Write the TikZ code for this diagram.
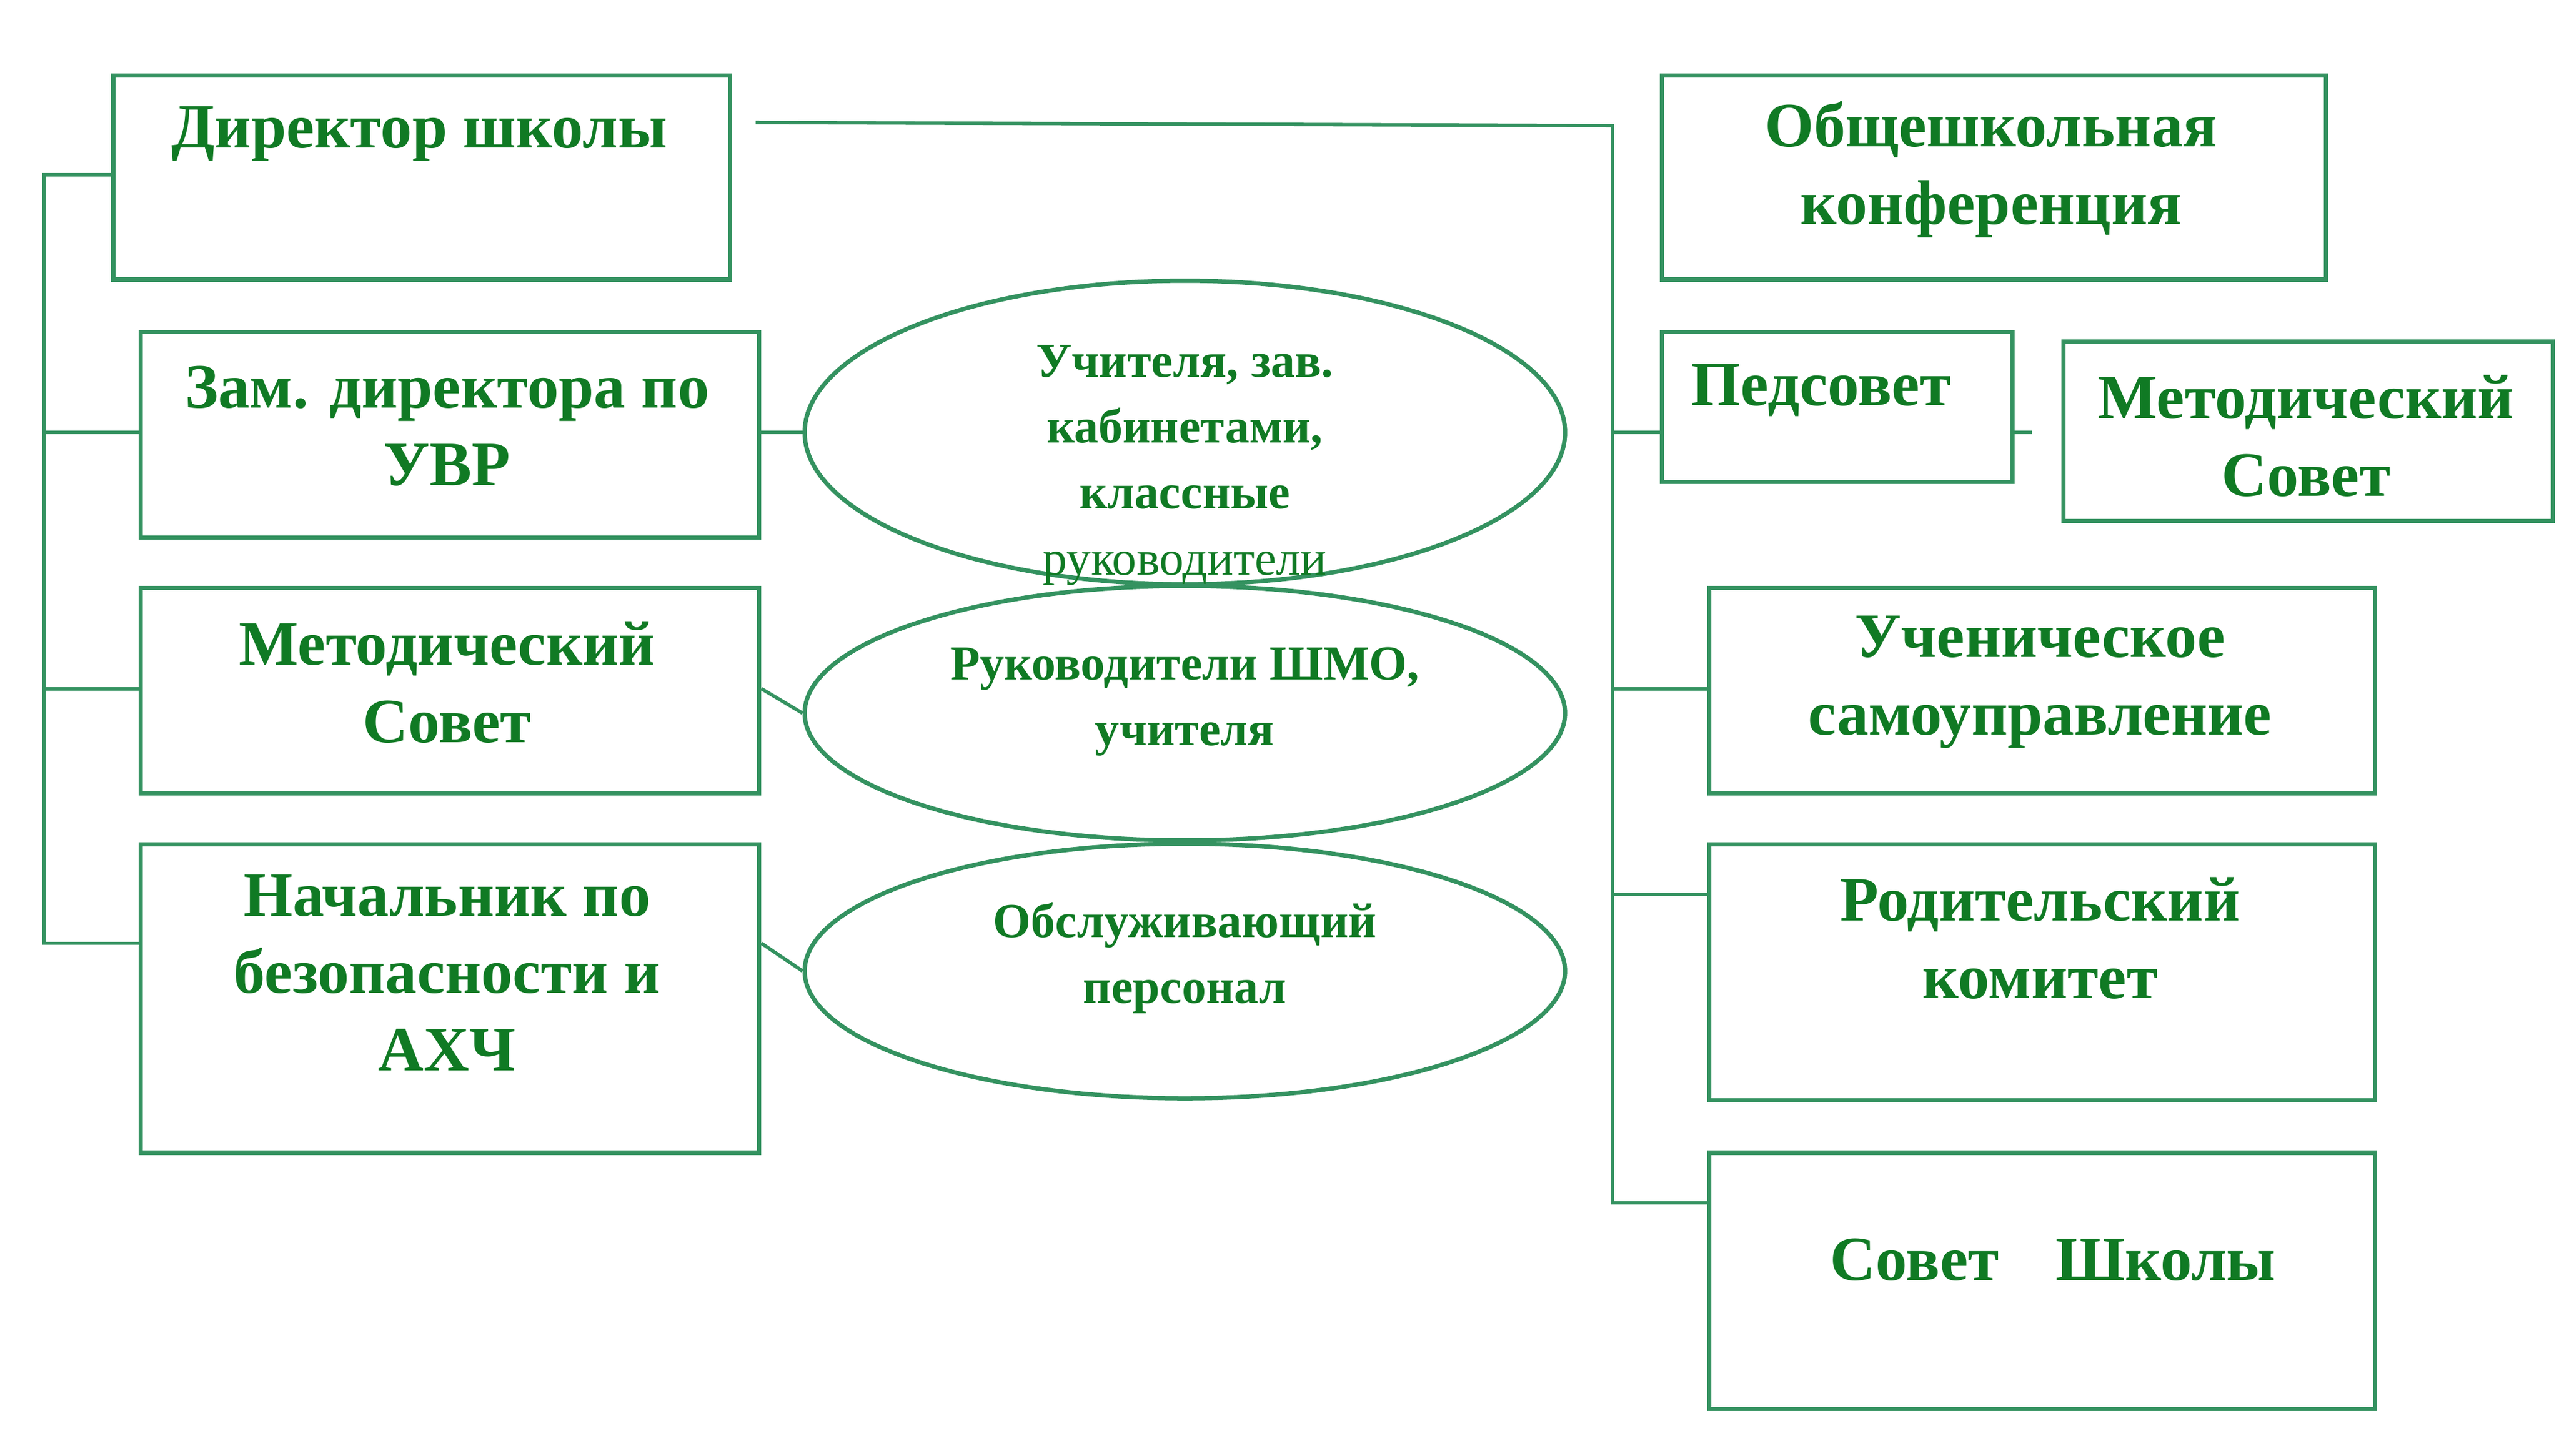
\documentclass[tikz,border=0pt]{standalone}
\usepackage{fontspec}
\setmainfont{Liberation Serif}
\usetikzlibrary{shapes.geometric, positioning}
\definecolor{txtgreen}{RGB}{16,122,36}
\definecolor{linegreen}{RGB}{52,146,96}
\begin{document}
\begin{tikzpicture}[x=0.02cm, y=-0.02cm]
    \tikzstyle{box} = [rectangle, draw=linegreen, line width=1.5pt, anchor=north west, inner sep=0pt]
    \tikzstyle{oval} = [ellipse, draw=linegreen, line width=1.5pt, inner sep=0pt]
    \tikzstyle{label} = [text=txtgreen, font=\fontsize{22}{27}\selectfont\bfseries, align=center]
    \tikzstyle{small} = [text=txtgreen, font=\fontsize{17}{23}\selectfont\bfseries, align=center]
    \tikzstyle{line} = [draw=linegreen, line width=1.2pt]
    \useasboundingbox (0,0) rectangle (1568,892);

    % left column
    \node (dir) [box, minimum width=7.56cm, minimum height=2.5cm] at (68,45) {};
    \node (zam) [box, minimum width=7.58cm, minimum height=2.52cm] at (85,202) {};
    \node (met) [box, minimum width=7.58cm, minimum height=2.52cm] at (85,359) {};
    \node (nach) [box, minimum width=7.58cm, minimum height=3.78cm] at (85,516) {};
    \node [label] at (257,82) {Директор школы};
    \node [label] at (274,261) {Зам. директора по\\УВР};
    \node [label] at (274,418) {Методический\\Совет};
    \node [label] at (274,596) {Начальник по\\безопасности и\\АХЧ};

    % ellipses
    \node (e1) [oval, minimum width=9.32cm, minimum height=3.72cm] at (726,265) {};
    \node (e2) [oval, minimum width=9.32cm, minimum height=3.12cm] at (726,437) {};
    \node (e3) [oval, minimum width=9.32cm, minimum height=3.12cm] at (726,595) {};
    \node [small] at (726,285) {Учителя, зав.\\кабинетами,\\классные\\\mdseries руководители};
    \node [small] at (726,430) {Руководители ШМО,\\учителя};
    \node [small] at (726,587) {Обслуживающий\\персонал};

    % right column
    \node (obsh) [box, minimum width=8.14cm, minimum height=2.5cm] at (1017,45) {};
    \node (ped) [box, minimum width=4.3cm, minimum height=1.84cm] at (1017,202) {};
    \node (met2) [box, minimum width=6cm, minimum height=2.2cm] at (1263,208) {};
    \node (uch) [box, minimum width=8.16cm, minimum height=2.52cm] at (1046,359) {};
    \node (rod) [box, minimum width=8.16cm, minimum height=3.14cm] at (1046,516) {};
    \node (sov) [box, minimum width=8.16cm, minimum height=3.14cm] at (1046,705) {};
    \node [label] at (1220,104) {Общешкольная\\конференция};
    \node [label] at (1116,239) {Педсовет};
    \node [label] at (1413,267) {Методический\\Совет};
    \node [label] at (1250,418) {Ученическое\\самоуправление};
    \node [label] at (1250,575) {Родительский\\комитет};
    \node [label] at (1258,772) {Совет\hspace{0.9em}Школы};

    % connectors
    \coordinate (lt) at (27,107);
    \coordinate (lb) at (27,578);
    \coordinate (rt) at (988,77);
    \coordinate (rb) at (988,737);
    \draw [line] (dir.west |- lt) -- (lt) -- (lb) -- (nach.west |- lb);
    \draw [line] (27,265) -- (zam.west |- 0,265);
    \draw [line] (27,422) -- (met.west |- 0,422);
    \draw [line] (zam.east |- 0,265) -- (e1.west);
    \draw [line] (met.east |- 0,422) -- (e2.west);
    \draw [line] (nach.east |- 0,578) -- (e3.west);
    \draw [line] (463,75) -- (rt) -- (rb) -- (sov.west |- rb);
    \draw [line] (988,265) -- (ped.west |- 0,265);
    \draw [line] (988,422) -- (uch.west |- 0,422);
    \draw [line] (988,548) -- (rod.west |- 0,548);
    \draw [line] (ped.east |- 0,265) -- (1245,265);
\end{tikzpicture}
\end{document}
